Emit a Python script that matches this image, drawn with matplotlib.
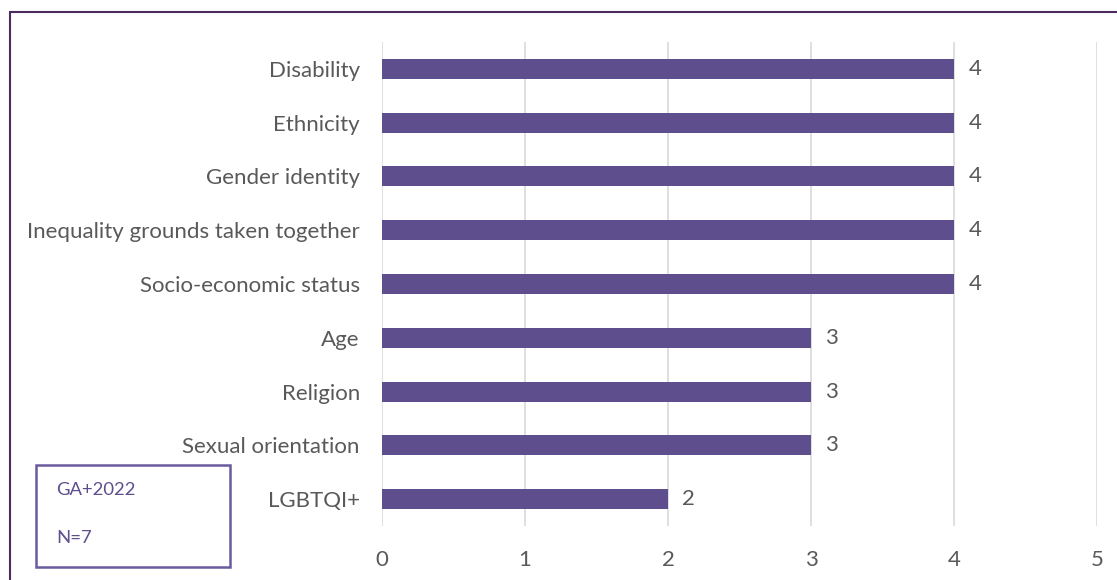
import matplotlib.pyplot as plt
from matplotlib.patches import Rectangle

plt.rcParams['font.family'] = ['Lato', 'DejaVu Sans']

categories = ['Disability', 'Ethnicity', 'Gender identity', 'Inequality grounds taken together',
              'Socio-economic status', 'Age', 'Religion', 'Sexual orientation', 'LGBTQI+']
values = [4, 4, 4, 4, 4, 3, 3, 3, 2]
x_ticks = [0, 1, 2, 3, 4, 5]

bar_color = '#5F4E8E'
text_color = '#595959'
fs = 16

fig = plt.figure(figsize=(11.17, 5.8), dpi=100)
ax = fig.add_axes([382 / 1117, 1 - 526 / 580, (1097 - 382) / 1117, (526 - 42) / 580])

y = list(range(len(categories)))
ax.barh(y, values, height=0.37, color=bar_color, zorder=3)
for yi, v in zip(y, values):
    ax.text(v + 0.1, yi, str(v), va='center', ha='left', fontsize=fs, color=text_color)

ax.set_xlim(0, 5)
ax.set_ylim(len(categories) - 0.5, -0.5)
ax.set_xticks(x_ticks)
ax.set_xticklabels([str(t) for t in x_ticks], fontsize=fs, color=text_color)
ax.set_yticks(y)
ax.set_yticklabels(categories, fontsize=fs, color=text_color)
ax.tick_params(axis='both', length=0)
ax.tick_params(axis='x', pad=17)
ax.tick_params(axis='y', pad=16)
ax.grid(axis='x', color='#D9D9D9', linewidth=1.2, zorder=0)
for s in ax.spines.values():
    s.set_visible(False)

# note box
fig.patches.append(Rectangle((36 / 1117, 1 - 567 / 580), (230 - 36) / 1117, (567 - 465) / 580,
                             transform=fig.transFigure, fill=False, edgecolor='#6A5A9E', linewidth=1.8))
fig.text(56 / 1117, 1 - 490 / 580, 'GA+2022', fontsize=13.3, color='#5F4E8E', va='center')
fig.text(56 / 1117, 1 - 538 / 580, 'N=7', fontsize=13.3, color='#5F4E8E', va='center')

# outer frame
fig.patches.append(Rectangle((10 / 1117, -0.1), 1.2, 1 - 12 / 580 + 0.1,
                             transform=fig.transFigure, fill=False, edgecolor='#4B2A5E', linewidth=1.5))

fig.savefig('out.png', dpi=100)
